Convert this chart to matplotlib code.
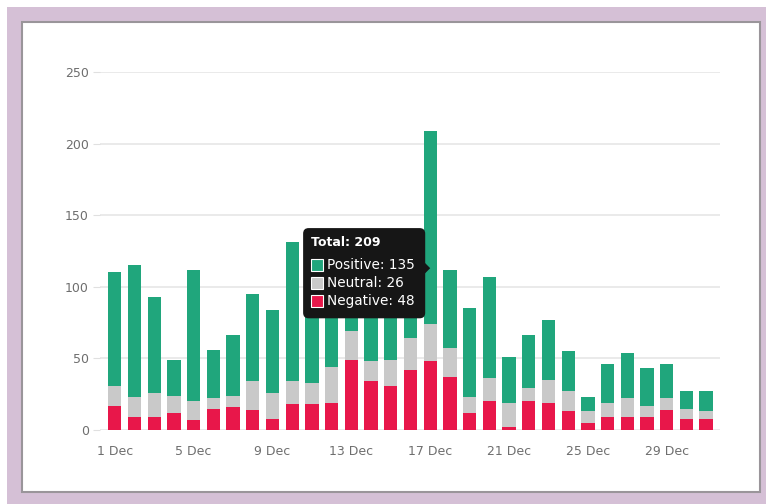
import matplotlib
matplotlib.use("Agg")
import matplotlib.pyplot as plt
from matplotlib.patches import Rectangle, FancyBboxPatch, Polygon
import numpy as np

# daily sentiment counts, 1-31 Dec
days = [f"{d} Dec" for d in range(1, 32)]
negative = [17, 9, 9, 12, 7, 15, 16, 14, 8, 18, 18, 19, 49, 34, 31, 42,
            48, 37, 12, 20, 2, 20, 19, 13, 5, 9, 9, 9, 14, 8, 8]
neutral = [14, 14, 17, 12, 13, 7, 8, 20, 18, 16, 15, 25, 20, 14, 18, 22,
           26, 20, 11, 16, 17, 9, 16, 14, 8, 10, 13, 8, 8, 7, 5]
positive = [79, 92, 67, 25, 92, 34, 42, 61, 58, 97, 72, 76, 16, 52, 46, 61,
            135, 55, 62, 71, 32, 37, 42, 28, 10, 27, 32, 26, 24, 12, 14]
y_ticks = [0, 50, 100, 150, 200, 250]
hover_idx = 16  # 17 Dec

GREEN = "#20a67c"
GRAY = "#c9c9c9"
RED = "#e8174a"
TXT = "#6e6e6e"

fig = plt.figure(figsize=(7.66, 5.04), dpi=100)
fig.patch.set_facecolor("white")
fig.add_artist(Rectangle((7 / 766, 0), 1 - 7 / 766, 497 / 504, transform=fig.transFigure,
                         facecolor="#d5c0d6", edgecolor="none", zorder=-3))
fig.add_artist(Rectangle((22 / 766, 12 / 504), 738 / 766, 470 / 504, transform=fig.transFigure,
                         facecolor="white", edgecolor="#9a959a", linewidth=1.5, zorder=-2))

ax = fig.add_axes([100 / 766, 74 / 504, 620 / 766, 358 / 504])
ax.set_facecolor("none")

x = np.arange(len(days))
neg = np.array(negative)
neu = np.array(neutral)
pos = np.array(positive)
ax.bar(x, neg, width=0.68, color=RED, zorder=2)
ax.bar(x, neu, width=0.68, bottom=neg, color=GRAY, zorder=2)
ax.bar(x, pos, width=0.68, bottom=neg + neu, color=GREEN, zorder=2)

ax.set_xlim(-0.75, len(days) - 0.3)
ax.set_ylim(0, 250)
ax.set_yticks(y_ticks)
ax.set_yticklabels([str(v) for v in y_ticks])
ax.set_xticks(x[::4])
ax.set_xticklabels(days[::4])
ax.grid(axis="y", color="#e6e6e6", linewidth=1.2, zorder=0)
ax.tick_params(axis="y", length=5, color="#e0e0e0", labelcolor=TXT, labelsize=9, pad=3)
ax.tick_params(axis="x", length=0, labelcolor=TXT, labelsize=9, pad=11)
for s in ax.spines.values():
    s.set_visible(False)

# tooltip for the hovered bar
px_x = 19.7   # pixels per day
px_y = 1.432  # pixels per unit
tot = neg[hover_idx] + neu[hover_idx] + pos[hover_idx]
right = hover_idx - 5 / px_x
left = hover_idx - 127 / px_x
top, bottom = 141, 78
box = FancyBboxPatch((left, bottom), right - left, top - bottom,
                     boxstyle="round,pad=0,rounding_size=0.28",
                     mutation_aspect=px_x / px_y,
                     facecolor="#161616", edgecolor="none", zorder=5)
ax.add_patch(box)
cy = 113
ax.add_patch(Polygon([[right - 0.05, cy + 6 / px_y], [right + 5 / px_x, cy], [right - 0.05, cy - 6 / px_y]],
                     closed=True, facecolor="#161616", edgecolor="none", zorder=5))
tx = left + 8 / px_x
ax.text(tx, 131, f"Total: {tot}", color="white", fontsize=9, fontweight="bold",
        va="center", ha="left", zorder=6)
rows = [("Positive", pos[hover_idx], GREEN), ("Neutral", neu[hover_idx], GRAY),
        ("Negative", neg[hover_idx], RED)]
for i, (name, val, col) in enumerate(rows):
    ry = 115 - i * 12.5
    ax.add_patch(Rectangle((tx, ry - 4.2), 12 / px_x, 8.4, facecolor=col,
                           edgecolor="white", linewidth=0.8, zorder=6))
    ax.text(tx + 16 / px_x, ry, f"{name}: {val}", color="white", fontsize=9.8,
            va="center", ha="left", zorder=6)

fig.savefig("out.png", dpi=100)
